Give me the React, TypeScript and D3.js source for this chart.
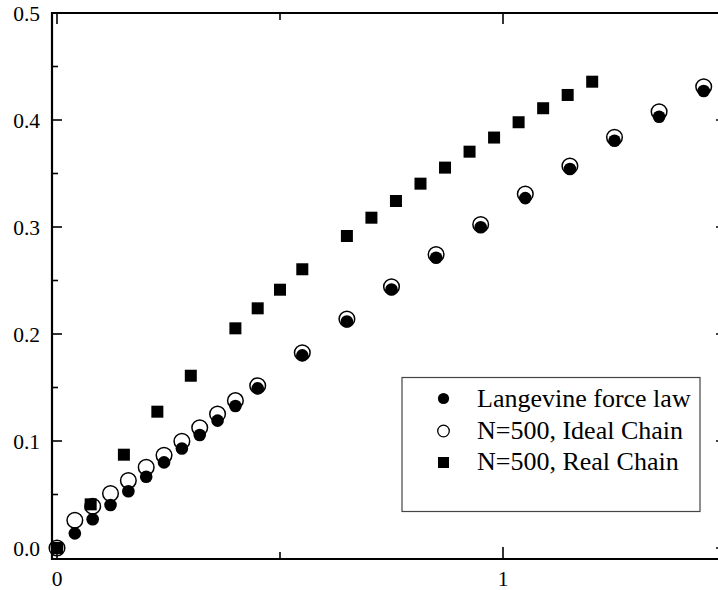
import React from "react";
import * as d3 from "d3";

const circleX = [0, 0.04, 0.08, 0.12, 0.16, 0.2, 0.24, 0.28, 0.32, 0.36, 0.4, 0.45, 0.55, 0.65, 0.75, 0.85, 0.95, 1.05, 1.15, 1.25, 1.35, 1.45];
const langevin = [0, 0.0137, 0.0268, 0.0402, 0.053, 0.0666, 0.08, 0.093, 0.1056, 0.119, 0.1327, 0.1492, 0.18, 0.2117, 0.2416, 0.2713, 0.2997, 0.327, 0.3542, 0.3806, 0.4031, 0.4271];
const ideal = [0, 0.026, 0.039, 0.051, 0.063, 0.0754, 0.0866, 0.0997, 0.1124, 0.1252, 0.1377, 0.1517, 0.1825, 0.214, 0.2442, 0.2743, 0.3023, 0.3308, 0.357, 0.3838, 0.4077, 0.4311];
const squareX = [0, 0.0755, 0.15, 0.225, 0.3, 0.4, 0.45, 0.5, 0.55, 0.65, 0.705, 0.76, 0.815, 0.87, 0.925, 0.98, 1.035, 1.09, 1.145, 1.2];
const real = [0, 0.0408, 0.0872, 0.1274, 0.161, 0.2053, 0.224, 0.2414, 0.2605, 0.2916, 0.3087, 0.3243, 0.3405, 0.3555, 0.3704, 0.3836, 0.3979, 0.411, 0.4234, 0.4358];

const xMajor = [0, 1];
const xMinor = [0.5];
const yMajor = [0, 0.1, 0.2, 0.3, 0.4, 0.5];
const yMinor = [0.05, 0.15, 0.25, 0.35, 0.45];
const legendLabels = ["Langevine force law", "N=500, Ideal Chain", "N=500, Real Chain"];

export default function App() {
  const W = 718, H = 590;
  const x = d3.scaleLinear().domain([0, 1.5]).range([57, 726]);
  const y = d3.scaleLinear().domain([0, 0.5]).range([548, 13]);
  const left = 52, bottom = 559, top = y(0.5), right = x(1.5);
  const font = "'Liberation Serif', 'Times New Roman', serif";
  const fmt = d3.format(".1f");
  const majorLen = 10, minorLen = 6;

  return (
    <svg width={W} height={H} style={{ position: "absolute", left: 0, top: 0, background: "#fff" }} fontFamily={font}>
      <rect x={0} y={0} width={W} height={H} fill="#fff" />
      {/* data: open circles, filled circles, squares */}
      {circleX.map((v, i) => (
        <circle key={"o" + i} cx={x(v)} cy={y(ideal[i])} r={7.8} fill="#fff" stroke="#000" strokeWidth={1.5} />
      ))}
      {circleX.map((v, i) => (
        <circle key={"f" + i} cx={x(v)} cy={y(langevin[i])} r={6.3} fill="#000" />
      ))}
      {squareX.map((v, i) => (
        <rect key={"s" + i} x={x(v) - 6} y={y(real[i]) - 6} width={12} height={12} fill="#000" />
      ))}

      {/* axes frame */}
      <line x1={left} x2={left} y1={top - 1} y2={bottom + 1} stroke="#000" strokeWidth={2.2} />
      <line x1={left - 1} x2={right} y1={bottom} y2={bottom} stroke="#000" strokeWidth={2.2} />
      <line x1={left - 1} x2={right} y1={top} y2={top} stroke="#000" strokeWidth={2.2} />
      <line x1={right} x2={right} y1={top} y2={bottom} stroke="#000" strokeWidth={2.2} />

      {/* y ticks */}
      {yMajor.map((v) => (
        <g key={"ym" + v}>
          <line x1={left} x2={left + majorLen} y1={y(v)} y2={y(v)} stroke="#000" strokeWidth={1.6} />
          <line x1={right} x2={right - majorLen} y1={y(v)} y2={y(v)} stroke="#000" strokeWidth={1.6} />
          <text x={40} y={y(v)} dy="0.35em" textAnchor="end" fontSize={21.5} fill="#000">{fmt(v)}</text>
        </g>
      ))}
      {yMinor.map((v) => (
        <g key={"yn" + v}>
          <line x1={left} x2={left + minorLen} y1={y(v)} y2={y(v)} stroke="#000" strokeWidth={1.6} />
          <line x1={right} x2={right - minorLen} y1={y(v)} y2={y(v)} stroke="#000" strokeWidth={1.6} />
        </g>
      ))}
      {/* x ticks */}
      {xMajor.map((v) => (
        <g key={"xm" + v}>
          <line x1={x(v)} x2={x(v)} y1={bottom} y2={bottom - 12} stroke="#000" strokeWidth={1.6} />
          <line x1={x(v)} x2={x(v)} y1={top} y2={top + 11} stroke="#000" strokeWidth={1.6} />
          <text x={x(v)} y={586} textAnchor="middle" fontSize={21.5} fill="#000">{d3.format("d")(v)}</text>
        </g>
      ))}
      {xMinor.map((v) => (
        <g key={"xn" + v}>
          <line x1={x(v)} x2={x(v)} y1={bottom} y2={bottom - 7} stroke="#000" strokeWidth={1.6} />
          <line x1={x(v)} x2={x(v)} y1={top} y2={top + 7} stroke="#000" strokeWidth={1.6} />
        </g>
      ))}

      {/* legend */}
      <rect x={402} y={377.5} width={298} height={134} fill="#fff" stroke="#444" strokeWidth={1.2} />
      <circle cx={443.5} cy={398.5} r={5.6} fill="#000" />
      <circle cx={443.5} cy={431} r={5.8} fill="#fff" stroke="#000" strokeWidth={1.3} />
      <rect x={438} y={457} width={11} height={11} fill="#000" />
      {legendLabels.map((t, i) => (
        <text key={t} x={477} y={406.7 + i * 31.8} fontSize={26} fill="#000">{t}</text>
      ))}
    </svg>
  );
}
